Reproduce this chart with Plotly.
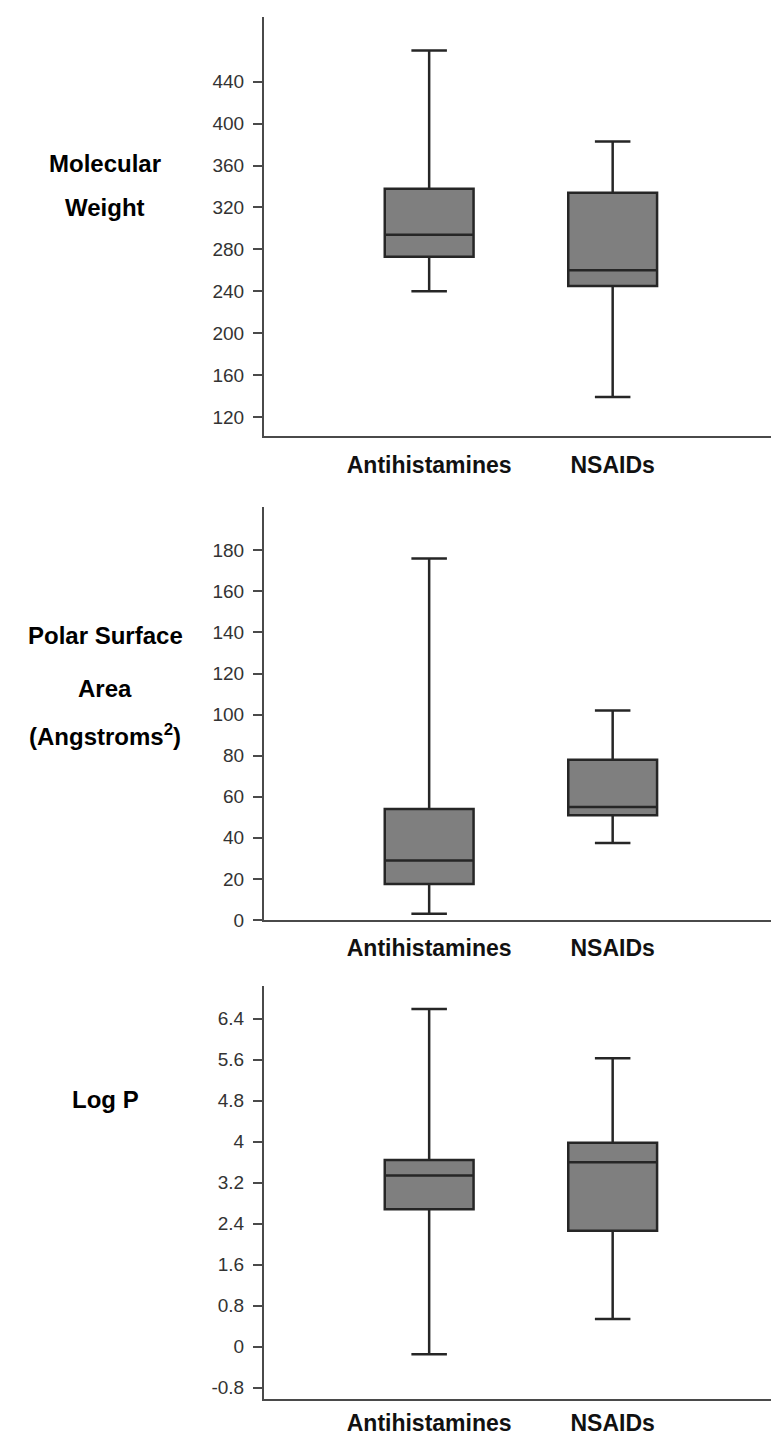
import plotly.graph_objects as go

categories = ["Antihistamines", "NSAIDs"]

mw_lower = [240, 139]
mw_q1 = [273, 245]
mw_median = [294, 260]
mw_q3 = [338, 334]
mw_upper = [470, 383]
mw_ticks = [120, 160, 200, 240, 280, 320, 360, 400, 440]

psa_lower = [3, 37.5]
psa_q1 = [17.5, 51]
psa_median = [29, 55]
psa_q3 = [54, 78]
psa_upper = [176, 102]
psa_ticks = [0, 20, 40, 60, 80, 100, 120, 140, 160, 180]

logp_lower = [-0.15, 0.54]
logp_q1 = [2.68, 2.26]
logp_median = [3.34, 3.6]
logp_q3 = [3.64, 3.98]
logp_upper = [6.59, 5.63]
logp_ticks = [-0.8, 0, 0.8, 1.6, 2.4, 3.2, 4, 4.8, 5.6, 6.4]
logp_ticktext = ["-0.8", "0", "0.8", "1.6", "2.4", "3.2", "4", "4.8", "5.6", "6.4"]

W, H = 779, 1441
FILL = "#7f7f7f"
EDGE = "#262626"
AXC = "#4a4a4a"

panels = [
    dict(lower=mw_lower, q1=mw_q1, med=mw_median, q3=mw_q3, up=mw_upper,
         ticks=mw_ticks, ticktext=[str(t) for t in mw_ticks], rng=[102, 502],
         top=9, bottom=431, standoff=8),
    dict(lower=psa_lower, q1=psa_q1, med=psa_median, q3=psa_q3, up=psa_upper,
         ticks=psa_ticks, ticktext=[str(t) for t in psa_ticks], rng=[0, 201],
         top=503, bottom=919, standoff=6),
    dict(lower=logp_lower, q1=logp_q1, med=logp_median, q3=logp_q3, up=logp_upper,
         ticks=logp_ticks, ticktext=logp_ticktext, rng=[-1.03, 7.03],
         top=986, bottom=1402, standoff=2),
]

fig = go.Figure()
layout = {}
xpos = list(range(len(categories)))
for i, p in enumerate(panels):
    sfx = "" if i == 0 else str(i + 1)
    fig.add_trace(go.Box(
        x=xpos, q1=p["q1"], median=p["med"], q3=p["q3"],
        lowerfence=p["lower"], upperfence=p["up"],
        fillcolor=FILL, line=dict(color=EDGE, width=2.5),
        width=0.484, whiskerwidth=0.4, boxpoints=False,
        xaxis="x" + sfx, yaxis="y" + sfx, showlegend=False, hoverinfo="skip",
    ))
    layout["xaxis" + sfx] = dict(
        domain=[256 / W, 1.0], range=[-0.9, 1.95], anchor="y" + sfx,
        tickvals=xpos, ticktext=categories, ticks="", showgrid=False, zeroline=False,
        showline=True, linecolor=AXC, linewidth=2, ticklabelstandoff=p["standoff"],
        tickfont=dict(family="Liberation Sans", size=23, color="#111111", weight="bold"),
    )
    layout["yaxis" + sfx] = dict(
        domain=[1 - p["bottom"] / H, 1 - p["top"] / H], range=p["rng"], anchor="x" + sfx,
        tickvals=p["ticks"], ticktext=p["ticktext"], ticks="outside", ticklen=9,
        tickwidth=1.5, tickcolor=AXC, showgrid=False, zeroline=False,
        showline=True, linecolor=AXC, linewidth=2, ticklabelstandoff=5,
        tickfont=dict(family="Liberation Sans", size=19, color="#333333"),
    )

titles = [
    ("Molecular", 157), ("Weight", 201),
    ("Polar Surface", 632), ("Area", 686), ("(Angstroms<sup>2</sup>)", 733),
    ("Log P", 1100),
]
annotations = []
for txt, ypx in titles:
    annotations.append(dict(
        text=txt, x=97 / W, y=1 - ypx / H, xref="paper", yref="paper",
        xanchor="center", yanchor="middle", showarrow=False,
        font=dict(family="Liberation Sans", size=24, color="#000000", weight="bold"),
    ))

fig.update_layout(
    width=W, height=H, margin=dict(l=0, r=0, t=0, b=0),
    paper_bgcolor="white", plot_bgcolor="white",
    annotations=annotations, **layout,
)
fig.write_html("out.html")
